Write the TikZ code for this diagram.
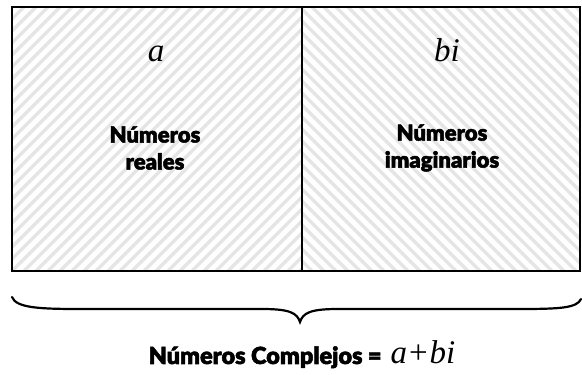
\documentclass[tikz,border=0pt]{standalone}
\usepackage{fontspec}
\newfontfamily\blk{Lato Black}[FakeBold=2.2]
\newfontfamily\tms{Liberation Serif}
\begin{document}
\begin{tikzpicture}[x=1pt,y=1pt,
  hatch/.style={draw=gray!20,line width=3.4pt},
  boxline/.style={draw=black,line width=2.6pt},
  lbl/.style={font=\blk\fontsize{22}{27}\selectfont,align=center,inner sep=0pt},
  var/.style={font=\tms\itshape\fontsize{33}{36}\selectfont,inner sep=0pt,anchor=base}]
\useasboundingbox (0,0) rectangle (582,375);
% hatching
\begin{scope}
  \clip (12,104) rectangle (302,368);
  \foreach \i in {-300,-288,...,320} \draw[hatch] (\i,104) -- ++(280,280);
\end{scope}
\begin{scope}
  \clip (302,104) rectangle (580,368);
  \foreach \i in {300,312,...,900} \draw[hatch] (\i,104) -- ++(-280,280);
\end{scope}
% box outline
\coordinate (tl) at (12,368);
\coordinate (br) at (580,104);
\coordinate (mt) at (302,368);
\coordinate (mb) at (302,104);
\draw[boxline] (tl) rectangle (br);
\draw[boxline,line width=2pt] (mt) -- (mb);
% labels
\node[var] (a) at (156,313) {a};
\node[var] (bi) at (447,313) {bi};
\node[lbl] (re) at (155,227) {Números\\reales};
\node[lbl] (im) at (442,227) {Números\\imaginarios};
% brace
\draw[line width=2.2pt,line cap=round]
  (12,78) .. controls (16,67) and (40,66) .. (80,66) -- (262,66)
  .. controls (290,66) and (297,62) .. (300,53)
  .. controls (303,62) and (310,66) .. (338,66) -- (520,66)
  .. controls (560,66) and (577,67) .. (581,76);
% bottom label
\node[inner sep=0pt,anchor=base] (cx) at (302,11)
  {{\blk\fontsize{23.5}{26}\selectfont Números Complejos =}\kern9pt{\tms\fontsize{33}{36}\selectfont\itshape a\kern2pt\upshape+\kern2pt\itshape bi}};
\end{tikzpicture}
\end{document}
